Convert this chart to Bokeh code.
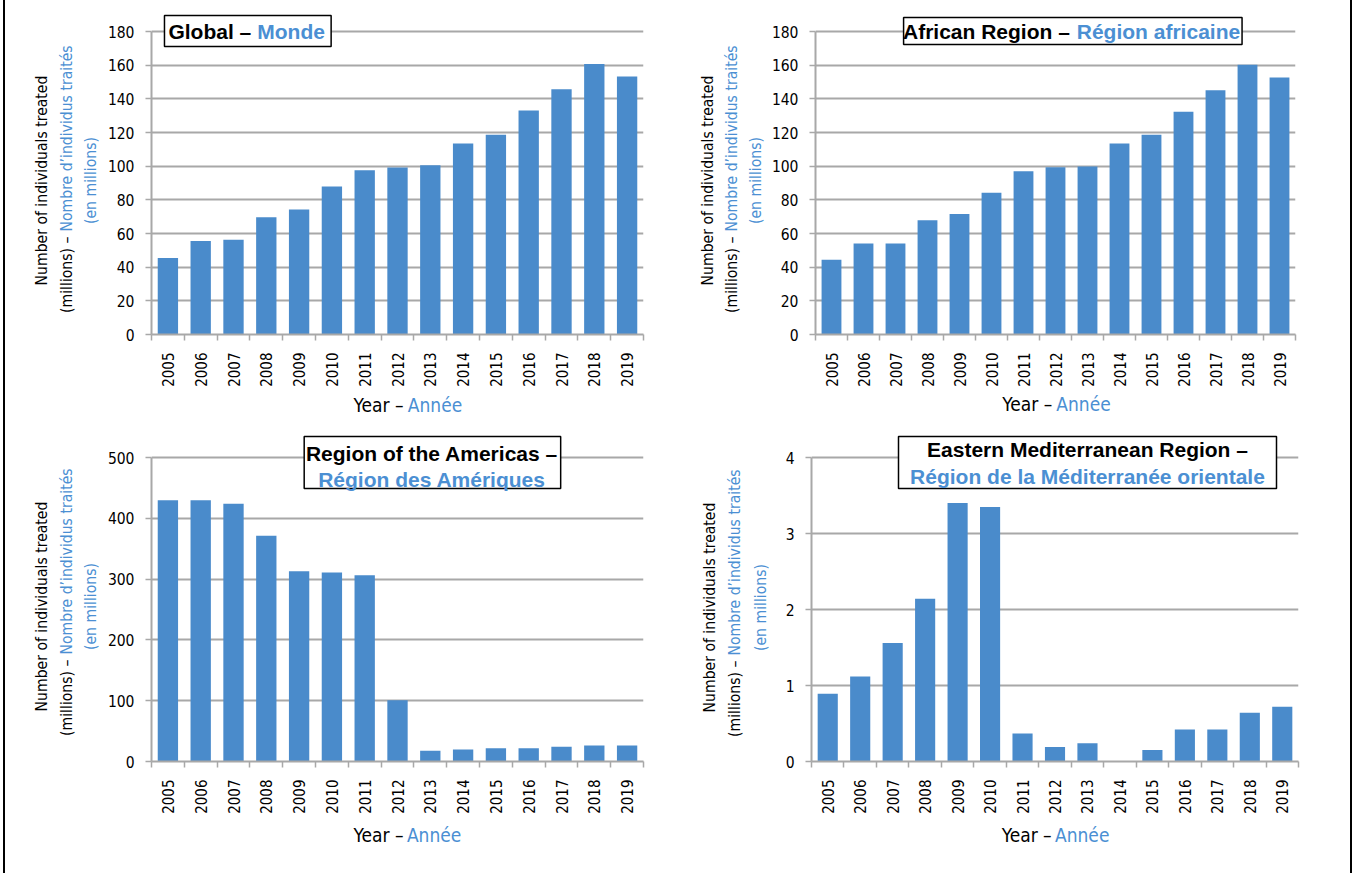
import math
from bokeh.plotting import figure
from bokeh.models import Range1d, FixedTicker, BoxAnnotation, Label
from bokeh.layouts import column, row
from bokeh.embed import file_html
from bokeh.resources import INLINE

# ---------------- data ----------------
years = [2005, 2006, 2007, 2008, 2009, 2010, 2011, 2012, 2013, 2014, 2015, 2016, 2017, 2018, 2019]
global_vals = [45.5, 55.5, 56.3, 69.7, 74.3, 87.9, 97.6, 99.2, 100.6, 113.4, 118.6, 133.0, 145.7, 160.7, 153.2]
african_vals = [44.4, 54.1, 54.1, 67.8, 71.6, 84.2, 97.0, 99.4, 99.8, 113.4, 118.7, 132.4, 145.1, 160.3, 152.6]
americas_vals = [429.8, 429.8, 423.8, 371.2, 313.1, 310.9, 306.5, 100.9, 17.5, 19.7, 21.9, 21.9, 24.1, 26.3, 26.3]
emr_vals = [0.89, 1.12, 1.56, 2.14, 3.40, 3.35, 0.37, 0.19, 0.24, 0.0, 0.15, 0.42, 0.42, 0.64, 0.72]

global_ticks = [0, 20, 40, 60, 80, 100, 120, 140, 160, 180]
african_ticks = [0, 20, 40, 60, 80, 100, 120, 140, 160, 180]
americas_ticks = [0, 100, 200, 300, 400, 500]
emr_ticks = [0, 1, 2, 3, 4]

global_title = [("Global –", "Monde")]
african_title = [("African Region –", "Région africaine")]
americas_title = ["Region of the Americas –", "Région des Amériques"]
emr_title = ["Eastern Mediterranean Region –", "Région de la Méditerranée orientale"]

ytitle_1 = "Number of individuals treated"
ytitle_2a = "(millions) –"
ytitle_2b = "Nombre d’individus traités"
ytitle_3 = "(en millions)"
xtitle_a = "Year –"
xtitle_b = "Année"

# ---------------- style ----------------
BAR = "#4a8bcb"
TBLUE = "#4b8fd3"
GRID = "#a8a8a8"
COND = "DejaVu Sans Condensed"
BOLD = "Liberation Sans"


def text_fig(left, top, w, h):
    f = figure(width=w, height=h, x_range=Range1d(left, left + w), y_range=Range1d(top + h, top),
               output_backend="svg", toolbar_location=None, x_axis_location=None, y_axis_location=None,
               min_border_left=0, min_border_right=0, min_border_top=0, min_border_bottom=0)
    f.outline_line_color = None
    f.background_fill_color = "white"
    f.border_fill_color = "white"
    f.grid.visible = False
    return f


def make_panel(vals, ticks, geo):
    fl, ft, fw, fh = geo["fig"]
    fx0, fx1, fymax, fy0, ftop = geo["frame"]
    ymax = ticks[-1]
    upp = ymax / (fy0 - fymax)
    x_start, x_end = years[0] - 0.5, years[-1] + 0.5
    y_end = (fy0 - ftop) * upp

    def px2x(px):
        return x_start + (px - fx0) / (fx1 - fx0) * (x_end - x_start)

    def px2y(py):
        return (fy0 - py) * upp

    p = figure(width=fw, height=fh, x_range=Range1d(x_start, x_end), y_range=Range1d(0, y_end),
               output_backend="svg", toolbar_location=None,
               min_border_left=fx0 - fl, min_border_right=fl + fw - fx1,
               min_border_top=ftop - ft, min_border_bottom=ft + fh - fy0)
    p.outline_line_color = None
    p.background_fill_color = "white"
    p.border_fill_color = "white"

    p.vbar(x=years, top=vals, width=0.62, fill_color=BAR, line_color=None)

    xa = p.xaxis[0]
    xa.ticker = FixedTicker(ticks=years, minor_ticks=[y - 0.5 for y in years] + [years[-1] + 0.5])
    xa.major_tick_line_color = None
    xa.major_tick_out = 0
    xa.major_tick_in = 0
    xa.minor_tick_line_color = GRID
    xa.minor_tick_line_width = 1.5
    xa.minor_tick_out = 6
    xa.minor_tick_in = 0
    xa.axis_line_color = GRID
    xa.axis_line_width = 2
    xa.major_label_orientation = math.pi / 2
    xa.major_label_standoff = 12
    xa.major_label_text_font = COND
    xa.major_label_text_font_size = "15px"
    xa.major_label_text_color = "black"

    ya = p.yaxis[0]
    ya.ticker = FixedTicker(ticks=ticks, minor_ticks=[])
    ya.bounds = (0, ymax)
    ya.major_tick_out = 6
    ya.major_tick_in = 0
    ya.major_tick_line_color = GRID
    ya.major_tick_line_width = 1.5
    ya.minor_tick_line_color = None
    ya.axis_line_color = GRID
    ya.axis_line_width = 2
    ya.major_label_standoff = 11
    ya.major_label_text_font = COND
    ya.major_label_text_font_size = "15.5px"
    ya.major_label_text_color = "black"

    p.xgrid.visible = False
    p.ygrid.grid_line_color = GRID
    p.ygrid.grid_line_width = 2

    # title box
    bx0, by0, bx1, by1 = geo["box"]
    p.add_layout(BoxAnnotation(left=px2x(bx0), right=px2x(bx1), top=px2y(by0), bottom=px2y(by1),
                               fill_color="white", fill_alpha=1.0, line_color="black", line_alpha=1.0,
                               line_width=1.5, level="annotation"))
    tcommon = dict(text_font=BOLD, text_font_style="bold", text_font_size="21px", text_baseline="middle")
    if geo["title_mode"] == "single":
        black, blue = geo["title"][0]
        bend, bstart, cy = geo["title_pos"]
        p.add_layout(Label(x=px2x(bend), y=px2y(cy), text=black, text_align="right", text_color="black", **tcommon))
        p.add_layout(Label(x=px2x(bstart), y=px2y(cy), text=blue, text_align="left", text_color=TBLUE, **tcommon))
    else:
        l1, l2 = geo["title"]
        cx, cy1, cy2 = geo["title_pos"]
        p.add_layout(Label(x=px2x(cx), y=px2y(cy1), text=l1, text_align="center", text_color="black", **tcommon))
        p.add_layout(Label(x=px2x(cx), y=px2y(cy2), text=l2, text_align="center", text_color=TBLUE, **tcommon))

    # y axis title (3 rotated lines) in a text strip on the left
    ll, lt, lw, lh = geo["left"]
    lf = text_fig(ll, lt, lw, lh)
    lx1, lx2, lx3, ycen, send, sstart = geo["ytitle"]
    ycommon = dict(text_font=COND, text_font_size="15.6px", angle=math.pi / 2, text_baseline="middle")
    lf.add_layout(Label(x=lx1, y=ycen, text=ytitle_1, text_align="center", text_color="black", **ycommon))
    lf.add_layout(Label(x=lx2, y=send, text=ytitle_2a, text_align="right", text_color="black", **ycommon))
    lf.add_layout(Label(x=lx2, y=sstart, text=ytitle_2b, text_align="left", text_color=TBLUE, **ycommon))
    lf.add_layout(Label(x=lx3, y=ycen, text=ytitle_3, text_align="center", text_color=TBLUE, **ycommon))

    # x axis title in a text strip below
    bl, bt, bw, bh = geo["bottom"]
    bf = text_fig(bl, bt, bw, bh)
    xend, xstart, xy = geo["xtitle"]
    xcommon = dict(text_font=COND, text_font_size="19px", text_baseline="middle")
    bf.add_layout(Label(x=xend, y=xy, text=xtitle_a, text_align="right", text_color="black", **xcommon))
    bf.add_layout(Label(x=xstart, y=xy, text=xtitle_b, text_align="left", text_color=TBLUE, **xcommon))

    return row(lf, column(p, bf))


geo_tl = dict(left=(5, 0, 99, 420), fig=(104, 0, 574, 392), bottom=(104, 392, 574, 28),
              frame=(150, 643, 31, 334, 13), box=(163, 15, 330, 46),
              title_mode="single", title=global_title, title_pos=(250, 256, 31),
              ytitle=(41, 66, 90, 180, 236, 231), xtitle=(398, 403, 404))
geo_tr = dict(left=(678, 0, 90, 420), fig=(768, 0, 582, 392), bottom=(768, 392, 582, 28),
              frame=(810, 1295, 31, 334, 13), box=(899, 17, 1241, 44),
              title_mode="single", title=african_title, title_pos=(1067, 1074, 31),
              ytitle=(707, 731, 755, 180, 236, 231), xtitle=(1055, 1060, 403))
geo_bl = dict(left=(5, 420, 99, 453), fig=(104, 420, 574, 400), bottom=(104, 820, 574, 53),
              frame=(150, 643, 457, 761, 430), box=(303, 436, 560, 488),
              title_mode="double", title=americas_title, title_pos=(431, 453, 479),
              ytitle=(41, 66, 90, 606, 659, 654), xtitle=(398, 402, 834))
geo_br = dict(left=(678, 420, 94, 453), fig=(772, 420, 578, 400), bottom=(772, 820, 578, 53),
              frame=(811, 1298, 457, 761, 430), box=(898, 436, 1276, 488),
              title_mode="double", title=emr_title, title_pos=(1087, 449, 476),
              ytitle=(709, 734, 760, 607, 660, 655), xtitle=(1057, 1061, 834))

panel_tl = make_panel(global_vals, global_ticks, geo_tl)
panel_tr = make_panel(african_vals, african_ticks, geo_tr)
panel_bl = make_panel(americas_vals, americas_ticks, geo_bl)
panel_br = make_panel(emr_vals, emr_ticks, geo_br)

layout = column(row(panel_tl, panel_tr), row(panel_bl, panel_br),
                styles={"margin-left": "3px", "border-left": "2px solid black",
                        "border-right": "2px solid black"})

open("out.html", "w").write(file_html(layout, INLINE))
